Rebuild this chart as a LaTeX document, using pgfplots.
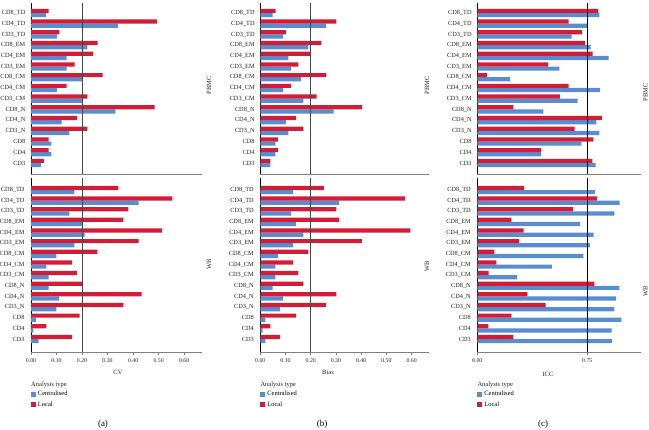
\documentclass[border=0pt]{standalone}
\usepackage{pgfplots}
\pgfplotsset{compat=1.18}
\usepackage{pgfplotstable}
\usepackage{fontspec}
\setmainfont{Liberation Serif}
\definecolor{cblue}{RGB}{88,141,208}
\definecolor{cred}{RGB}{208,30,56}
\definecolor{refline}{RGB}{70,70,70}

% y: 0=CD3 ... 14=CD8_TD ; cen = Centralised, loc = Local
\pgfplotstableread{
y cen loc
0 0.039 0.050
1 0.080 0.069
2 0.080 0.069
3 0.150 0.221
4 0.120 0.180
5 0.331 0.484
6 0.200 0.221
7 0.101 0.140
8 0.200 0.281
9 0.140 0.171
10 0.140 0.242
11 0.221 0.261
12 0.101 0.111
13 0.341 0.494
14 0.059 0.069
}\aPBMC
\pgfplotstableread{
y cen loc
0 0.030 0.161
1 0.009 0.060
2 0.020 0.191
3 0.099 0.362
4 0.110 0.433
5 0.069 0.200
6 0.069 0.180
7 0.060 0.161
8 0.099 0.260
9 0.170 0.422
10 0.210 0.514
11 0.200 0.362
12 0.150 0.382
13 0.422 0.554
14 0.170 0.342
}\aWB
\pgfplotstableread{
y cen loc
0 0.040 0.040
1 0.060 0.070
2 0.060 0.070
3 0.111 0.171
4 0.101 0.142
5 0.291 0.404
6 0.171 0.223
7 0.090 0.121
8 0.162 0.262
9 0.121 0.151
10 0.111 0.200
11 0.191 0.242
12 0.090 0.101
13 0.261 0.302
14 0.049 0.061
}\bPBMC
\pgfplotstableread{
y cen loc
0 0.020 0.079
1 0.009 0.040
2 0.020 0.142
3 0.079 0.261
4 0.090 0.302
5 0.049 0.171
6 0.060 0.151
7 0.060 0.130
8 0.070 0.191
9 0.130 0.403
10 0.171 0.595
11 0.142 0.313
12 0.121 0.302
13 0.313 0.574
14 0.130 0.252
}\bWB
\pgfplotstableread{
y cen loc
0 0.807 0.784
1 0.433 0.433
2 0.709 0.791
3 0.832 0.663
4 0.812 0.850
5 0.451 0.246
6 0.684 0.563
7 0.837 0.622
8 0.223 0.066
9 0.559 0.483
10 0.896 0.786
11 0.773 0.734
12 0.643 0.714
13 0.748 0.622
14 0.832 0.825
}\cPBMC
\pgfplotstableread{
y cen loc
0 0.919 0.246
1 0.916 0.075
2 0.982 0.233
3 0.935 0.465
4 0.946 0.342
5 0.969 0.798
6 0.271 0.078
7 0.508 0.130
8 0.723 0.116
9 0.768 0.285
10 0.793 0.315
11 0.700 0.233
12 0.935 0.654
13 0.971 0.816
14 0.802 0.319
}\cWB

\pgfplotsset{
  panel/.style={
    scale only axis, xmin=0, anchor=south west, clip=false,
    axis lines=left, axis line style={-},
    x axis line style={draw=gray, line width=0.6pt},
    y axis line style={draw=black, line width=0.6pt},
    ytick={0,...,14},
    yticklabels={CD3,CD4,CD8,CD3\_N,CD4\_N,CD8\_N,CD3\_CM,CD4\_CM,CD8\_CM,CD3\_EM,CD4\_EM,CD8\_EM,CD3\_TD,CD4\_TD,CD8\_TD},
    ytick style={draw=none},
    yticklabel style={font=\fontsize{6.3}{7}\selectfont, text=black!85},
    xticklabel style={font=\fontsize{5.8}{7}\selectfont, text=black!85},
    /pgf/number format/assume math mode=true,
  },
  toppan/.style={panel, height=171pt, ymin=-1.03, ymax=14.93, xtick=\empty},
  botpan/.style={panel, height=174pt, ymin=-1.22, ymax=15.13,
    tick align=outside, major tick length=3pt,
    xtick style={draw=gray, line width=0.5pt},
    legend style={at={(axis description cs:0,-0.215)}, anchor=north west,
      draw=none, fill=none, inner sep=0pt, outer sep=0pt,
      font=\fontsize{6.5}{7}\selectfont, row sep=0.5pt, legend cell align=left,
      /tikz/every even column/.append style={column sep=2pt}},
  },
  bluebar/.style={xbar, bar width=4.2pt, bar shift=-2.1pt, fill=cblue, draw=none,
    legend image code/.code={\fill[cblue] (0pt,-2.5pt) rectangle (5pt,2.5pt);}},
  redbar/.style={xbar, bar width=4.2pt, bar shift=2.1pt, fill=cred, draw=none,
    legend image code/.code={\fill[cred] (0pt,-2.5pt) rectangle (5pt,2.5pt);}},
}

\begin{document}
\begin{tikzpicture}
\path[use as bounding box] (0pt,0pt) rectangle (649pt,430pt);

% ---------- (a) ----------
\begin{axis}[toppan, at={(31pt,256pt)}, width=171pt, xmax=0.67]
\addplot[bluebar] table[x=cen,y=y]{\aPBMC};
\addplot[redbar] table[x=loc,y=y]{\aPBMC};
\draw[refline, line width=0.7pt] (axis cs:0.2,-1.03) -- (axis cs:0.2,14.93);
\end{axis}
\begin{axis}[botpan, at={(31pt,78pt)}, width=171pt, xmax=0.67,
  xtick={0,0.1,0.2,0.3,0.4,0.5,0.6},
  xticklabels={0.00,0.10,0.20,0.30,0.40,0.50,0.60}]
\addplot[bluebar] table[x=cen,y=y]{\aWB};
\addplot[redbar] table[x=loc,y=y]{\aWB};
\draw[refline, line width=0.7pt] (axis cs:0.2,-1.22) -- (axis cs:0.2,15.13);
\legend{Centralised,Local}
\end{axis}

% ---------- (b) ----------
\begin{axis}[toppan, at={(260.3pt,256pt)}, width=169pt, xmax=0.67]
\addplot[bluebar] table[x=cen,y=y]{\bPBMC};
\addplot[redbar] table[x=loc,y=y]{\bPBMC};
\draw[refline, line width=0.7pt] (axis cs:0.2,-1.03) -- (axis cs:0.2,14.93);
\end{axis}
\begin{axis}[botpan, at={(260.3pt,78pt)}, width=169pt, xmax=0.67,
  xtick={0,0.1,0.2,0.3,0.4,0.5,0.6},
  xticklabels={0.00,0.10,0.20,0.30,0.40,0.50,0.60}]
\addplot[bluebar] table[x=cen,y=y]{\bWB};
\addplot[redbar] table[x=loc,y=y]{\bWB};
\draw[refline, line width=0.7pt] (axis cs:0.2,-1.22) -- (axis cs:0.2,15.13);
\legend{Centralised,Local}
\end{axis}

% ---------- (c) ----------
\begin{axis}[toppan, at={(477.3pt,256pt)}, width=163.4pt, xmax=1.114]
\addplot[bluebar] table[x=cen,y=y]{\cPBMC};
\addplot[redbar] table[x=loc,y=y]{\cPBMC};
\draw[black, line width=0.7pt] (axis cs:0.75,-1.03) -- (axis cs:0.75,14.93);
\end{axis}
\begin{axis}[botpan, at={(477.3pt,78pt)}, width=163.4pt, xmax=1.114,
  xtick={0,0.75}, xticklabels={0.00,0.75}]
\addplot[bluebar] table[x=cen,y=y]{\cWB};
\addplot[redbar] table[x=loc,y=y]{\cWB};
\draw[black, line width=0.7pt] (axis cs:0.75,-1.22) -- (axis cs:0.75,15.13);
\legend{Centralised,Local}
\end{axis}

% ---------- texts ----------
\begin{scope}[every node/.style={font=\fontsize{6.5}{7}\selectfont, text=black!85}]
\node[rotate=90] at (209pt,345pt) {PBMC};
\node[rotate=90] at (209pt,166pt) {WB};
\node[rotate=90] at (427pt,345pt) {PBMC};
\node[rotate=90] at (427pt,164pt) {WB};
\node[rotate=90] at (645.5pt,338pt) {PBMC};
\node[rotate=90] at (645.5pt,139pt) {WB};
\node at (118pt,58pt) {CV};
\node at (328pt,58pt) {Bias};
\node at (548pt,56pt) {ICC};
\node[anchor=west, inner sep=0pt] at (31pt,45pt) {Analysis type};
\node[anchor=west, inner sep=0pt] at (260.3pt,45pt) {Analysis type};
\node[anchor=west, inner sep=0pt] at (477.3pt,45pt) {Analysis type};
\end{scope}
\node[font=\fontsize{9}{10}\selectfont] at (103pt,6pt) {(a)};
\node[font=\fontsize{9}{10}\selectfont] at (322pt,6pt) {(b)};
\node[font=\fontsize{9}{10}\selectfont] at (543pt,6pt) {(c)};
\end{tikzpicture}
\end{document}
